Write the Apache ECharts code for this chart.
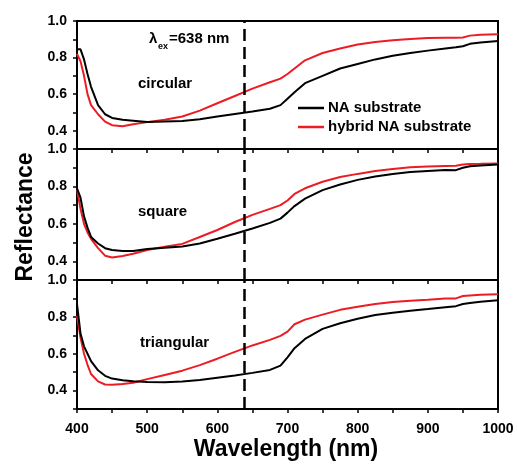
<!DOCTYPE html>
<html>
<head>
<meta charset="utf-8">
<script src="https://cdn.jsdelivr.net/npm/echarts@6/dist/echarts.min.js"></script>
<style>html,body{margin:0;padding:0;background:#fff}#c{width:517px;height:465px}</style>
</head>
<body>
<div id="c"></div>
<script>
const wavelength = [400,405,410,415,420,430,440,450,465,480,500,525,550,575,600,625,650,675,690,700,710,725,750,775,800,825,850,875,900,925,940,950,960,975,1000];
const circularNA = [0.845,0.845,0.79,0.71,0.64,0.54,0.49,0.47,0.46,0.455,0.448,0.45,0.453,0.463,0.478,0.492,0.505,0.52,0.54,0.575,0.61,0.66,0.70,0.74,0.765,0.79,0.81,0.825,0.838,0.85,0.857,0.862,0.875,0.882,0.89];
const circularHybrid = [0.82,0.78,0.70,0.60,0.54,0.49,0.45,0.43,0.425,0.435,0.447,0.46,0.478,0.51,0.55,0.59,0.63,0.665,0.685,0.71,0.74,0.785,0.825,0.85,0.872,0.885,0.895,0.902,0.907,0.909,0.909,0.91,0.92,0.925,0.927];
const squareNA = [0.79,0.74,0.64,0.58,0.53,0.495,0.47,0.46,0.455,0.455,0.466,0.472,0.479,0.495,0.52,0.547,0.575,0.605,0.628,0.66,0.695,0.735,0.78,0.81,0.835,0.853,0.867,0.877,0.883,0.888,0.887,0.90,0.908,0.912,0.917];
const squareHybrid = [0.784,0.68,0.60,0.554,0.52,0.47,0.43,0.42,0.428,0.44,0.46,0.478,0.493,0.53,0.567,0.61,0.648,0.68,0.70,0.725,0.76,0.79,0.825,0.85,0.867,0.882,0.893,0.902,0.906,0.909,0.91,0.917,0.92,0.921,0.923];
const triangularNA = [0.869,0.71,0.64,0.60,0.56,0.51,0.48,0.465,0.456,0.45,0.446,0.445,0.449,0.457,0.47,0.482,0.496,0.512,0.535,0.58,0.63,0.68,0.735,0.765,0.79,0.81,0.822,0.833,0.842,0.852,0.858,0.87,0.875,0.882,0.89];
const triangularHybrid = [0.805,0.688,0.60,0.54,0.49,0.45,0.433,0.432,0.436,0.442,0.462,0.485,0.508,0.538,0.573,0.61,0.645,0.675,0.697,0.72,0.76,0.785,0.812,0.838,0.855,0.87,0.88,0.888,0.893,0.90,0.90,0.913,0.916,0.92,0.923];
const panelNames = ['circular','square','triangular'];
const seriesNames = ['NA substrate','hybrid NA substrate'];
const xTickLabels = [400,500,600,700,800,900,1000];
const yTickLabels = [0.4,0.6,0.8,1.0];
const excitation = 638;

const panels = [[circularNA, circularHybrid],[squareNA, squareHybrid],[triangularNA, triangularHybrid]];
const tops = [21,149,280];
const heights = [128,131,129];
const FONT = 'Liberation Sans, Arial, sans-serif';
const colors = ['#000000','#ec1c24'];

const grid = [], xAxis = [], yAxis = [], series = [];
panels.forEach((p, i) => {
  grid.push({left:77, width:421, top:tops[i], height:heights[i], show:true, borderColor:'#000', borderWidth:2, backgroundColor:'transparent'});
  xAxis.push({
    type:'value', gridIndex:i, min:400, max:1000, interval:50,
    axisLine:{show:true, onZero:false, lineStyle:{color:'#000', width:2}},
    axisTick:{show:true, inside:false, length:4, lineStyle:{color:'#000', width:1.5}},
    splitLine:{show:false},
    axisLabel:{show:i===2, margin:13, color:'#000', fontFamily:FONT, fontWeight:'bold', fontSize:14,
      formatter: v => xTickLabels.indexOf(Math.round(v))>=0 ? String(Math.round(v)) : ''}
  });
  yAxis.push({
    type:'value', gridIndex:i, min:0.3, max:1.0, interval:0.1,
    axisLine:{show:true, onZero:false, lineStyle:{color:'#000', width:2}},
    axisTick:{show:true, inside:false, length:4, lineStyle:{color:'#000', width:1.5}},
    splitLine:{show:false},
    axisLabel:{margin:10, color:'#000', fontFamily:FONT, fontWeight:'bold', fontSize:14,
      formatter: v => yTickLabels.some(t => Math.abs(t-v)<1e-6) ? v.toFixed(1) : ''}
  });
  p.forEach((vals, k) => {
    const s = {
      name: seriesNames[k], type:'line', xAxisIndex:i, yAxisIndex:i,
      data: wavelength.map((w, j) => [w, vals[j]]),
      showSymbol:false, symbol:'none', smooth:false,
      lineStyle:{color:colors[k], width:2}, itemStyle:{color:colors[k]},
      z: k===0 ? 3 : 2, silent:true, animation:false
    };
    if (k === 0) {
      s.markLine = {silent:true, symbol:['none','none'], label:{show:false},
        lineStyle:{color:'#000', width:2.5, type:[12,6]},
        data:[{xAxis: excitation}], animation:false};
    }
    series.push(s);
  });
});

const txt = (x, y, text, size) => ({type:'text', x:x, y:y,
  style:{text:text, fill:'#000', font:'bold '+size+'px '+FONT, verticalAlign:'middle'}});

const option = {
  animation:false,
  grid, xAxis, yAxis, series,
  graphic: [
    txt(149, 39, 'λ', 15),
    txt(158, 47, 'ex', 9),
    txt(169, 39, '=638 nm', 15),
    txt(138, 84, panelNames[0], 15),
    txt(138, 212, panelNames[1], 15),
    txt(140, 343, panelNames[2], 15),
    {type:'line', shape:{x1:298, y1:108, x2:324, y2:108}, style:{stroke:colors[0], lineWidth:2.5}},
    {type:'line', shape:{x1:298, y1:127, x2:324, y2:127}, style:{stroke:colors[1], lineWidth:2.5}},
    txt(328, 108, seriesNames[0], 15),
    txt(328, 127, seriesNames[1], 15),
    {type:'text', x:286, y:450, style:{text:'Wavelength (nm)', fill:'#000', font:'bold 23px '+FONT, align:'center', verticalAlign:'middle'}},
    {type:'text', x:26, y:217, rotation:Math.PI/2, style:{text:'Reflectance', fill:'#000', font:'bold 23px '+FONT, align:'center', verticalAlign:'middle'}}
  ]
};
const chart = echarts.init(document.getElementById('c'), null, {renderer:'canvas'});
chart.setOption(option);
</script>
</body>
</html>
